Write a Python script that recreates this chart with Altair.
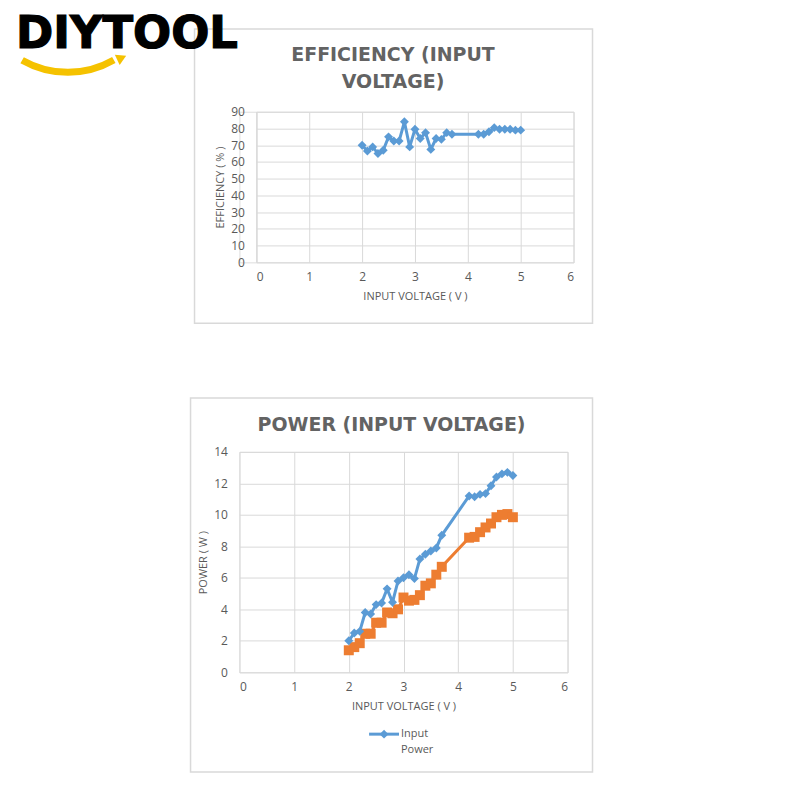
import altair as alt
import pandas as pd

# ---------------- data ----------------
voltage = [2.0, 2.1, 2.2, 2.3, 2.4, 2.5, 2.6, 2.7, 2.8, 2.9, 3.0, 3.1, 3.2, 3.3,
           3.4, 3.5, 3.6, 3.7, 4.2, 4.3, 4.4, 4.5, 4.6, 4.7, 4.8, 4.9, 5.0]
efficiency = [70, 66.5, 69, 65, 67, 75, 72.5, 72.5, 84, 69, 79.5, 74, 77.5, 67.5,
              74, 73.5, 77.5, 76.5, 76.5, 76.5, 78, 80.5, 79.5, 79.5, 79.5, 79, 79]
input_power = [2.0, 2.5, 2.6, 3.8, 3.7, 4.3, 4.4, 5.3, 4.45, 5.8, 6.0, 6.2, 5.95, 7.2,
               7.5, 7.7, 7.9, 8.7, 11.2, 11.15, 11.3, 11.35, 11.85, 12.4, 12.6, 12.7, 12.5]
output_power = [1.4, 1.6, 1.85, 2.45, 2.45, 3.15, 3.15, 3.8, 3.75, 4.0, 4.75, 4.55, 4.6, 4.9,
                5.5, 5.65, 6.2, 6.7, 8.55, 8.6, 8.9, 9.2, 9.45, 9.85, 10.0, 10.05, 9.85]
x_ticks = [0, 1, 2, 3, 4, 5, 6]
eff_ticks = [0, 10, 20, 30, 40, 50, 60, 70, 80, 90]
pow_ticks = [0, 2, 4, 6, 8, 10, 12, 14]

BLUE = "#5b9bd5"
ORANGE = "#ed7d31"
GRID = "#d9d9d9"
TXT = "#595959"
FONT = "Open Sans"
TFONT = "DejaVu Sans"

eff_df = pd.DataFrame({"voltage": voltage, "efficiency": efficiency})
pow_df = pd.DataFrame({"voltage": voltage, "input": input_power, "output": output_power})
one = pd.DataFrame({"k": [0]})


def xaxis():
    return alt.Axis(values=x_ticks, grid=True, gridColor=GRID, domain=False, ticks=False,
                    labelPadding=9, labelFontSize=12, labelColor=TXT, labelFont=FONT,
                    title="INPUT VOLTAGE ( V )", titleFontSize=11, titleFontWeight="normal",
                    titleColor=TXT, titleFont=FONT, titlePadding=8)


def yaxis(vals, title):
    return alt.Axis(values=vals, grid=True, gridColor=GRID, domain=False, ticks=False,
                    labelPadding=12, labelFontSize=12, labelColor=TXT, labelFont=FONT,
                    title=title, titleFontSize=11, titleFontWeight="normal",
                    titleColor=TXT, titleFont=FONT, titlePadding=5)


# ---------------- efficiency chart ----------------
EW, EH = 318, 151
eff_line = alt.Chart(eff_df).mark_line(
    color=BLUE, strokeWidth=3,
    point=alt.OverlayMarkDef(shape="diamond", size=80, filled=True, color=BLUE, opacity=1),
).encode(
    x=alt.X("voltage:Q", scale=alt.Scale(domain=[0, 6], nice=False), axis=xaxis()),
    y=alt.Y("efficiency:Q", scale=alt.Scale(domain=[0, 90], nice=False),
            axis=yaxis(eff_ticks, "EFFICIENCY ( % )")),
)

eff_frame = alt.Chart(one).mark_rect(fillOpacity=0, stroke=GRID, strokeWidth=1.5).encode(
    x=alt.value(-62), x2=alt.value(337), y=alt.value(-83), y2=alt.value(212))
eff_title = alt.Chart(one).mark_text(
    text=["EFFICIENCY (INPUT", "VOLTAGE)"], font=TFONT, fontSize=19, fontWeight="bold",
    color="#636363", align="center", baseline="alphabetic", lineHeight=27,
).encode(x=alt.value(137), y=alt.value(-51))

logo_text = alt.Chart(one).mark_text(
    text="DIYTOOL", font="DejaVu Sans", fontSize=45, fontWeight="bold", color="#000000",
    stroke="#000000", strokeWidth=1.2, align="left", baseline="alphabetic",
).encode(x=alt.value(-241), y=alt.value(-64))
logo_arc = alt.Chart(one).mark_arc(
    theta=2.62, theta2=3.66, radius=96, radius2=89, color="#f5c200",
).encode(x=alt.value(-189), y=alt.value(-132))
logo_head = alt.Chart(one).mark_point(
    shape="triangle-up", size=130, filled=True, color="#f5c200", opacity=1, angle=65,
).encode(x=alt.value(-135), y=alt.value(-54))

eff_chart = alt.layer(eff_frame, eff_line, eff_title, logo_text, logo_arc, logo_head).properties(
    width=EW, height=EH)

# ---------------- power chart ----------------
PW, PH = 329, 221
xs = alt.X("voltage:Q", scale=alt.Scale(domain=[0, 6], nice=False), axis=xaxis())
pscale = alt.Scale(domain=[0, 14], nice=False)

pow_out = alt.Chart(pow_df).mark_line(
    color=ORANGE, strokeWidth=3,
    point=alt.OverlayMarkDef(shape="square", size=100, filled=True, color=ORANGE, opacity=1),
).encode(x=xs, y=alt.Y("output:Q", scale=pscale, axis=yaxis(pow_ticks, "POWER ( W )")))
pow_in = alt.Chart(pow_df).mark_line(
    color=BLUE, strokeWidth=3,
    point=alt.OverlayMarkDef(shape="diamond", size=80, filled=True, color=BLUE, opacity=1),
).encode(x=xs, y=alt.Y("input:Q", scale=pscale, axis=yaxis(pow_ticks, "POWER ( W )")))

canvas = alt.Chart(one).mark_rect(fillOpacity=0, strokeOpacity=0).encode(
    x=alt.value(-231), x2=alt.value(553), y=alt.value(-443), y2=alt.value(341))
pow_frame = alt.Chart(one).mark_rect(fillOpacity=0, stroke=GRID, strokeWidth=1.5).encode(
    x=alt.value(-49), x2=alt.value(354), y=alt.value(-54), y2=alt.value(321))
pow_title = alt.Chart(one).mark_text(
    text="POWER (INPUT VOLTAGE)", font=TFONT, fontSize=19, fontWeight="bold",
    color="#636363", align="center", baseline="alphabetic",
).encode(x=alt.value(152.5), y=alt.value(-21))

leg_line = alt.Chart(one).mark_rule(color=BLUE, strokeWidth=3).encode(
    x=alt.value(130), x2=alt.value(160), y=alt.value(283))
leg_pt = alt.Chart(one).mark_point(shape="diamond", size=80, filled=True, color=BLUE,
                                   opacity=1).encode(x=alt.value(145), y=alt.value(283))
leg_text = alt.Chart(one).mark_text(
    text=["Input", "Power"], font=FONT, fontSize=11, color=TXT, align="left",
    baseline="middle", lineHeight=16,
).encode(x=alt.value(162), y=alt.value(283))

pow_chart = alt.layer(canvas, pow_frame, pow_out, pow_in, pow_title, leg_line, leg_pt,
                      leg_text).properties(width=PW, height=PH)

spacer = alt.Chart(one).mark_point(opacity=0).encode(
    x=alt.value(0), y=alt.value(0)).properties(width=17, height=EH)

chart = alt.vconcat(
    alt.hconcat(spacer, eff_chart, spacing=0, bounds="flush"),
    pow_chart, spacing=341, bounds="flush",
).properties(padding=0).configure_view(strokeWidth=0).configure(font=FONT)

chart.save("out.html", embed_options={"renderer": "svg", "actions": False})
